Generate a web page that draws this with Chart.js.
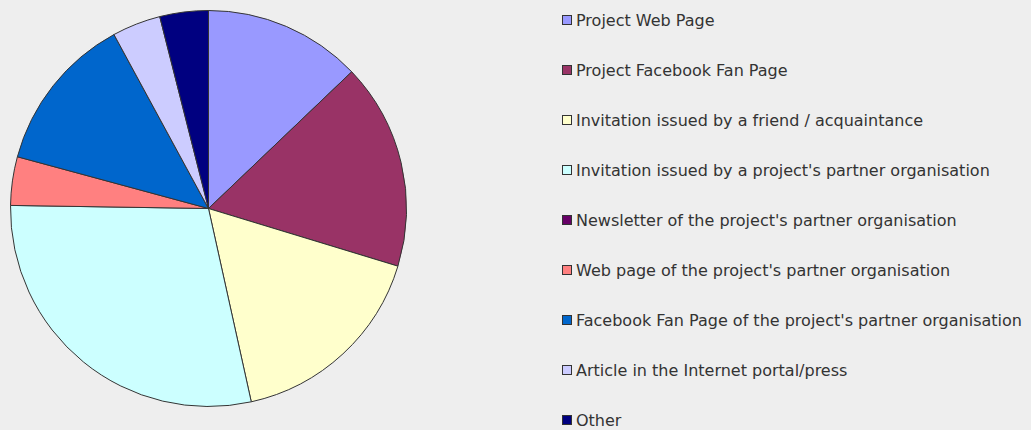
<!DOCTYPE html>
<html>
<head>
<meta charset="utf-8">
<script src="https://cdn.jsdelivr.net/npm/chart.js@4.4.1/dist/chart.umd.min.js"></script>
<style>
    html, body { margin: 0; padding: 0; background: #eeeeee; }
    #wrap { position: relative; width: 1031px; height: 430px; overflow: hidden; }
    #pieBox { position: absolute; left: 0; top: 0; width: 417px; height: 417px; }
    #legend { position: absolute; left: 562px; top: 0; margin: 0; padding: 0; list-style: none;
              font-family: "DejaVu Sans", sans-serif; font-size: 16px; color: #333333; }
    #legend li { position: absolute; left: 0; white-space: nowrap; height: 20px; line-height: 20px; }
    #legend span.box { position: absolute; left: 0; top: 4px; width: 8px; height: 8px; border: 1px solid #333333; }
    #legend span.txt { position: absolute; left: 14px; top: 0; }
</style>
</head>
<body>
<div id="wrap">
    <div id="pieBox"><canvas id="myChart"></canvas></div>
    <ul id="legend"></ul>
</div>
<script>
const labels = [
    'Project Web Page',
    'Project Facebook Fan Page',
    'Invitation issued by a friend / acquaintance',
    "Invitation issued by a project's partner organisation",
    "Newsletter of the project's partner organisation",
    "Web page of the project's partner organisation",
    "Facebook Fan Page of the project's partner organisation",
    'Article in the Internet portal/press',
    'Other'
];
const values = [13, 17, 17, 29, 0, 4, 13, 4, 4];
const colors = ['#9999ff', '#993366', '#ffffcc', '#ccffff', '#660066', '#ff8080', '#0066cc', '#ccccff', '#000080'];

// legend html (jarak 50px per item)
const htmlLegend = {
    id: 'htmlLegend',
    afterUpdate(chart) {
        const ul = document.getElementById('legend');
        ul.innerHTML = '';
        const items = chart.options.plugins.legend.labels.generateLabels(chart);
        items.forEach((item, i) => {
            const li = document.createElement('li');
            li.style.top = (11 + i * 50) + 'px';
            const box = document.createElement('span');
            box.className = 'box';
            box.style.background = item.fillStyle;
            const txt = document.createElement('span');
            txt.className = 'txt';
            txt.textContent = item.text;
            li.appendChild(box);
            li.appendChild(txt);
            ul.appendChild(li);
        });
    }
};

const ctx = document.getElementById('myChart');
new Chart(ctx, {
    type: 'pie',
    data: {
        labels: labels,
        datasets: [{
            data: values,
            backgroundColor: colors,
            borderColor: '#333333',
            borderWidth: 1
        }]
    },
    options: {
        responsive: true,
        maintainAspectRatio: false,
        animation: false,
        layout: { padding: 10 },
        plugins: {
            legend: { display: false },
            tooltip: { enabled: false }
        }
    },
    plugins: [htmlLegend]
});
</script>
</body>
</html>
